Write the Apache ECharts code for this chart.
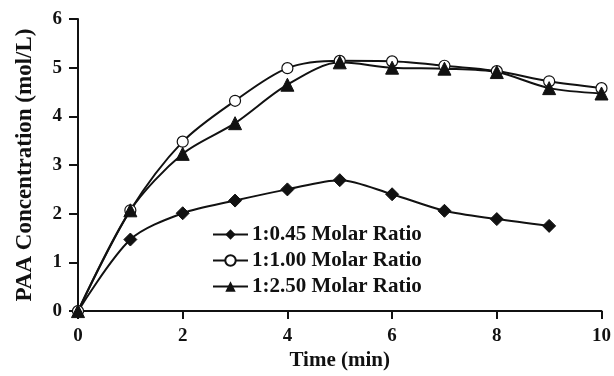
<!DOCTYPE html>
<html><head><meta charset="utf-8">
<script src="https://cdn.jsdelivr.net/npm/echarts@6/dist/echarts.min.js"></script>
<style>html,body{margin:0;padding:0;background:#fff}#c{width:614px;height:376px}</style>
</head><body><div id="c"></div>
<script>
var timeX = [0,1,2,3,4,5,6,7,8,9,10];
var seriesNames = ['1:0.45 Molar Ratio','1:1.00 Molar Ratio','1:2.50 Molar Ratio'];
var ratio045 = [0,1.47,2.01,2.27,2.50,2.69,2.40,2.06,1.89,1.75];
var ratio100 = [0,2.07,3.48,4.32,4.99,5.14,5.13,5.04,4.93,4.72,4.58];
var ratio250 = [0,2.07,3.23,3.86,4.65,5.11,5.00,4.98,4.91,4.58,4.47];
var xTicks = [0,2,4,6,8,10];
var yTicks = [0,1,2,3,4,5,6];

function pairs(vals){ return vals.map(function(v,i){return [timeX[i], v];}); }
var font = 'Liberation Serif';
var chart = echarts.init(document.getElementById('c'));
chart.setOption({
  animation:false,
  grid:{left:78,right:11,top:19,bottom:62},
  legend:{
    orient:'vertical', left:212, top:224, itemWidth:35, itemHeight:13, itemGap:5, padding:0,
    textStyle:{fontFamily:font,fontWeight:'bold',fontSize:21,color:'#111',padding:[0,0,0,-1]},
    data:seriesNames
  },
  xAxis:{type:'value',min:0,max:10,interval:2,
    name:'Time (min)',nameLocation:'middle',nameGap:38,
    nameTextStyle:{fontFamily:font,fontWeight:'bold',fontSize:21,color:'#111'},
    axisLine:{lineStyle:{color:'#111',width:2}},
    axisTick:{show:true,length:8,lineStyle:{color:'#111',width:2}},
    axisLabel:{fontFamily:font,fontWeight:'bold',fontSize:19,color:'#111',margin:15,
      formatter:function(v){return xTicks.indexOf(v)>=0?String(v):'';}},
    splitLine:{show:false}},
  yAxis:{type:'value',min:0,max:6,interval:1,
    name:'PAA Concentration (mol/L)',nameLocation:'middle',nameGap:41,
    nameTextStyle:{fontFamily:font,fontWeight:'bold',fontSize:23,color:'#111'},
    axisLine:{show:true,lineStyle:{color:'#111',width:2}},
    axisTick:{show:true,length:9,lineStyle:{color:'#111',width:2}},
    axisLabel:{fontFamily:font,fontWeight:'bold',fontSize:19,color:'#111',margin:16,
      formatter:function(v){return yTicks.indexOf(v)>=0?String(v):'';}},
    splitLine:{show:false}},
  series:[
    {name:seriesNames[0],type:'line',smooth:0.3,data:pairs(ratio045),
     symbol:'diamond',symbolSize:13,showAllSymbol:true,
     lineStyle:{color:'#111',width:2},itemStyle:{color:'#111',borderColor:'#111'}},
    {name:seriesNames[1],type:'line',smooth:0.3,data:pairs(ratio100),
     symbol:'circle',symbolSize:11,showAllSymbol:true,
     lineStyle:{color:'#111',width:2},itemStyle:{color:'#fff',borderColor:'#111',borderWidth:1.2}},
    {name:seriesNames[2],type:'line',smooth:0.3,data:pairs(ratio250),
     symbol:'triangle',symbolSize:13,showAllSymbol:true,
     lineStyle:{color:'#111',width:2},itemStyle:{color:'#111',borderColor:'#111'}}
  ]
});
</script></body></html>
